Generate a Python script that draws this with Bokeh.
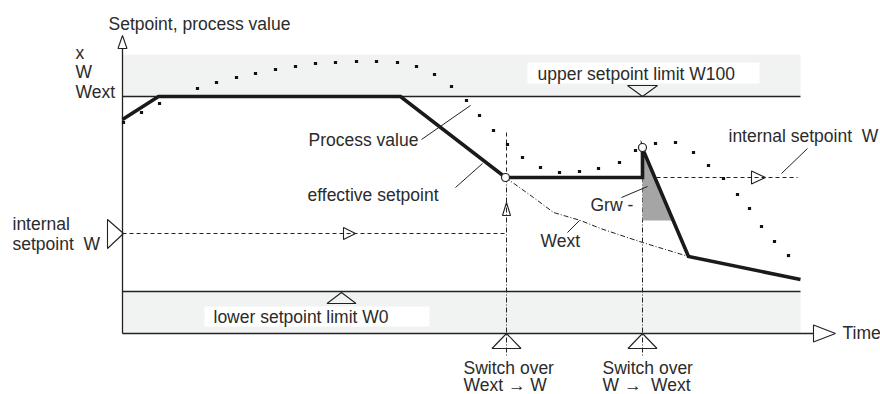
from bokeh.plotting import figure
from bokeh.models import Range1d
from bokeh.embed import file_html
from bokeh.resources import INLINE
from bokeh.core.properties import value

# ---- data (time t, value v; origin where the axes cross) ----
# process value (dotted curve)
pv_t = [1, 19, 37, 56, 75, 94, 114, 133, 153, 173, 193, 213, 234, 254, 275, 294, 312, 329, 344,
        357, 371, 385, 400, 418, 437, 457, 476, 497, 513, 533, 553, 571, 586, 601, 615, 627, 639, 652, 666]
pv_v = [211, 221, 230, 237, 245, 251, 256, 260, 264, 267, 270, 271, 272, 272, 271, 267, 259, 247, 233,
        218, 203, 189, 176, 166, 161, 162, 165, 171, 183, 190, 191, 181, 168, 155, 139, 125, 107, 92, 78]
# effective setpoint (thick line)
eff_t = [0, 36, 278, 383, 520, 520, 566, 678]
eff_v = [214, 237, 237, 156, 156, 185, 77, 54]
# external setpoint Wext (dash-dot)
wext_t = [383, 411, 431, 458, 478, 520, 566]
wext_v = [156, 136, 121, 113, 105, 91, 77]
# Grw gradient area
grw_t = [520, 520, 551]
grw_v = [185, 113, 113]

W100 = 237          # upper setpoint limit
W0 = 42             # lower setpoint limit
band_top = 279
t_end = 678
W_int_left = 100    # internal setpoint before switch
W_int_right = 156   # internal setpoint after switch
t_sw1 = 384         # switch over Wext -> W
t_sw2 = 520         # switch over W -> Wext
t_axis_end = 691
v_axis_end = 285

INK = "#222222"
TXT = "#2b2b2b"
BAND = "#f1f2f2"
FONT = value("Liberation Sans")
SP2 = "\u00a0 "

p = figure(width=880, height=394, output_backend="svg", toolbar_location=None,
           x_range=Range1d(-122, 758), y_range=Range1d(-61, 333),
           min_border=0, min_border_left=0, min_border_right=0,
           min_border_top=0, min_border_bottom=0)
p.axis.visible = False
p.grid.visible = False
p.outline_line_color = None
p.background_fill_color = "white"
p.border_fill_color = "white"

# bands
p.quad(left=[0, 0], right=[t_end, t_end], bottom=[W100, 0], top=[band_top, W0],
       fill_color=BAND, line_color=None)
# white label boxes
p.quad(left=[405, 82], right=[637, 307], bottom=[250, 7], top=[271, 27],
       fill_color="white", line_color=None)
# limit lines
p.segment(x0=[0, 0], y0=[W100, W0], x1=[t_end, t_end], y1=[W100, W0],
          line_color=INK, line_width=1.3)
# axes
p.segment(x0=[0, 0], y0=[0, 0], x1=[t_axis_end, 0], y1=[0, v_axis_end],
          line_color=INK, line_width=1.3)

# internal setpoint dashed
p.segment(x0=[0, t_sw2], y0=[W_int_left, W_int_right], x1=[t_sw1 - 1, 675],
          y1=[W_int_left, W_int_right], line_color=INK, line_width=1, line_dash="4 3")
# verticals
p.segment(x0=[t_sw1], y0=[201], x1=[t_sw1], y1=[W_int_right],
          line_color=INK, line_width=1, line_dash="4 3")
p.segment(x0=[t_sw1, t_sw2], y0=[W_int_right, W_int_right], x1=[t_sw1, t_sw2], y1=[-24, -24],
          line_color=INK, line_width=1, line_dash="5 2 1 2")
# Wext
p.line(wext_t, wext_v, line_color=INK, line_width=1, line_dash="5 2 1 2")

# Grw area
p.patch(grw_t, grw_v, fill_color="#a5a5a5", line_color=None)

# process value dots
p.scatter(pv_t, pv_v, marker="square", size=3.2, fill_color="#111111", line_color=None)

# effective setpoint
p.line(eff_t, eff_v, line_color="#1a1a1a", line_width=3.6, line_join="miter")
p.scatter([eff_t[3], eff_t[5]], [eff_v[3], eff_v[5] + 1], marker="circle", size=8,
          fill_color="white", line_color=INK, line_width=1.2)

# triangles
tri_xs = [[-4.5, 0, 4.5], [t_axis_end, t_axis_end + 22, t_axis_end],
          [505, 520, 535], [204.5, 219, 233.5],
          [-15, 1, -15], [221, 233, 221], [629, 643, 629],
          [t_sw1 - 14.5, t_sw1, t_sw1 + 14.5], [t_sw2 - 14.5, t_sw2, t_sw2 + 14.5],
          [t_sw1 - 4, t_sw1, t_sw1 + 4]]
tri_ys = [[v_axis_end, v_axis_end + 13, v_axis_end], [8.5, 0, -8.5],
          [248, W100, 248], [30, W0 - 1, 30],
          [114, W_int_left, 85], [106, W_int_left, 94], [162.5, W_int_right, 149.5],
          [-15, 0, -15], [-15, 0, -15],
          [118, 131, 118]]
p.patches(tri_xs, tri_ys, fill_color=None, line_color=INK, line_width=1.1)

# leader lines
p.segment(x0=[299, 333, 445, 499, 659], y0=[194, 146, 101, 136, 160],
          x1=[348, 360, 457, 525, 685], y1=[228, 170, 113, 147, 185],
          line_color=INK, line_width=1)

# texts
lab_t = [-14, -47, -47, -47, 415, 186, 185, 606, -110, -110, 468, 418, 91, 720, 341, 341, 480, 480]
lab_v = [310, 281, 262, 242, 260, 194, 139, 198, 110, 90, 129, 93, 17, 1, -34, -51, -34, -51]
lab_s = ["Setpoint, process value", "x", "W", "Wext", "upper setpoint limit W100",
         "Process value", "effective setpoint", "internal setpoint" + SP2 + "W", "internal",
         "setpoint" + SP2 + "W", "Grw -", "Wext", "lower setpoint limit W0", "Time",
         "Switch over", "Wext \u2192 W", "Switch over", "W \u2192" + SP2 + "Wext"]
p.text(x=lab_t, y=lab_v, text=lab_s, text_font=FONT, text_font_size=value("17.5px"),
       text_baseline="middle", text_align="left", text_color=TXT)

open("out.html", "w").write(file_html(p, INLINE))
